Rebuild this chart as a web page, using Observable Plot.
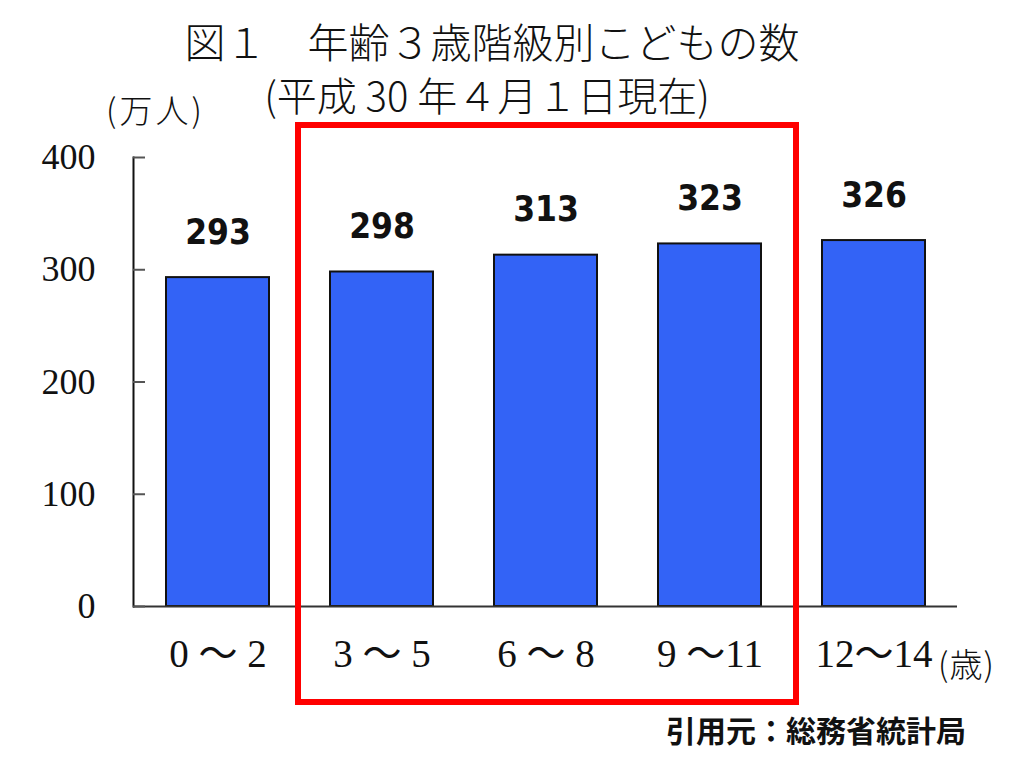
<!DOCTYPE html>
<html><head><meta charset="utf-8">
<script src="https://cdn.jsdelivr.net/npm/d3@7"></script>
<script src="https://cdn.jsdelivr.net/npm/@observablehq/plot@0.6"></script>
<style>
body{margin:0;background:#fff;width:1024px;height:765px;overflow:hidden;position:relative;font-family:"Noto Sans CJK JP",sans-serif;}
.t{position:absolute;white-space:nowrap;color:#111;line-height:1;}
#chart{position:absolute;left:0;top:0;}
</style></head>
<body>
<div id="chart"></div>
<div class="t" id="title" style="left:0;width:984px;text-align:center;top:20px;font-size:41px;font-weight:300;">図１　年齢３歳階級別こどもの数</div>
<div class="t" id="sub" style="left:0;width:974px;text-align:center;top:74px;font-size:40px;font-weight:300;">(平成 30 年４月１日現在)</div>
<div class="t" id="unit" style="left:106px;top:93px;font-size:33px;font-weight:300;letter-spacing:3px;">(万人)</div>
<div class="t" id="sai" style="left:938px;top:647px;font-size:33px;font-weight:300;letter-spacing:1px;">(歳)</div>
<div class="t" id="cap" style="right:58px;top:714px;font-size:30px;font-weight:700;">引用元：総務省統計局</div>
<script>
const categories = ["0 ～ 2", "3 ～ 5", "6 ～ 8", "9 ～11", "12～14"];
const values = [293, 298, 313, 323, 326];
const yTicks = [0, 100, 200, 300, 400];
const highlighted = ["3 ～ 5", "9 ～11"];

const data = categories.map((c, i) => ({cat: c, v: values[i]}));

const redBox = (index, scales, channels, dims, context) => {
  const x0 = scales.x(highlighted[0]) - 32;
  const x1 = scales.x(highlighted[1]) + scales.x.bandwidth() + 35;
  const y0 = scales.y(400) - 32;
  const y1 = scales.y(0) + 96;
  const r = document.createElementNS("http://www.w3.org/2000/svg", "rect");
  r.setAttribute("x", x0); r.setAttribute("y", y0);
  r.setAttribute("width", x1 - x0); r.setAttribute("height", y1 - y0);
  r.setAttribute("fill", "none"); r.setAttribute("stroke", "#ff0000"); r.setAttribute("stroke-width", 6);
  return r;
};

const chart = Plot.plot({
  width: 1024,
  height: 765,
  marginTop: 157,
  marginBottom: 159,
  marginLeft: 133,
  marginRight: 67,
  style: {background: "transparent", color: "#111"},
  x: {domain: categories, paddingInner: 0.375, paddingOuter: 0.1875, label: null},
  y: {domain: [0, 400], label: null},
  marks: [
    Plot.barY(data, {x: "cat", y: "v", fill: "#3363f6", stroke: "#111", strokeWidth: 2}),
    Plot.text(data, {x: "cat", y: "v", text: d => String(d.v), lineAnchor: "bottom", dy: -34,
      fontSize: 35, fontWeight: "bold", fontFamily: "'Liberation Sans Narrow','DejaVu Sans Condensed',sans-serif", fill: "#111"}),
    Plot.ruleY([0], {stroke: "#333", strokeWidth: 2}),
    Plot.frame({anchor: "left", stroke: "#111", strokeWidth: 2}),
    Plot.axisY({ticks: yTicks, tickSize: -12, tickPadding: 50, fontSize: 36, label: null,
      fontFamily: "'Liberation Serif',serif", stroke: "#555", strokeWidth: 2}),
    Plot.axisX({tickSize: 0, tickPadding: 33, fontSize: 39, label: null,
      fontFamily: "'Liberation Serif','Noto Sans CJK JP',serif"}),
    redBox
  ]
});
document.getElementById("chart").appendChild(chart);
</script>
</body></html>
